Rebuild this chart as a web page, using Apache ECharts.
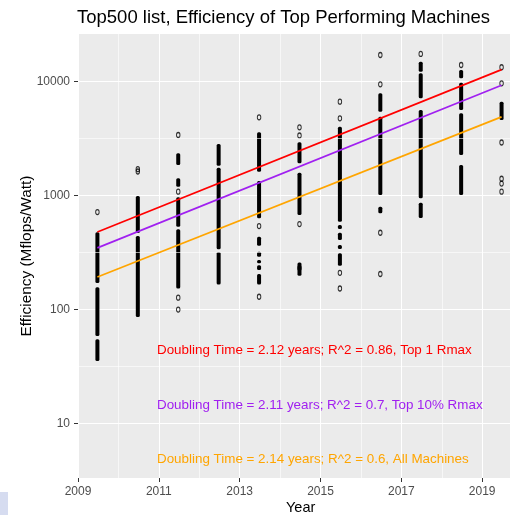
<!DOCTYPE html>
<html>
<head>
<meta charset="utf-8">
<script src="https://cdn.jsdelivr.net/npm/echarts@6/dist/echarts.min.js"></script>
<style>
  html, body { margin: 0; padding: 0; background: #fff; }
  #chart { width: 510px; height: 515px; }
</style>
</head>
<body>
<div id="chart"></div>
<script>
// x position of each June list
var listYears = [2009.48, 2010.48, 2011.48, 2012.48, 2013.48, 2014.48, 2015.48, 2016.48, 2017.48, 2018.48, 2019.48];

// stretches where machines overlap into a solid run, [low, high] Mflops/Watt
var runs2009 = [[35.4, 55], [58.6, 157], [171, 476]];
var runs2010 = [[86, 441], [468, 988]];
var runs2011 = [[153, 505], [532, 962], [1192, 1412], [1847, 2339]];
var runs2012 = [[166, 319], [337, 1749], [1821, 2821]];
var runs2013 = [[166, 205], [222, 245], [254, 272], [290, 321], [362, 434], [630, 1337], [1613, 3573]];
var runs2014 = [[198, 259], [673, 1581], [1911, 2920]];
var runs2015 = [[242, 311], [339, 368], [407, 471], [508, 550], [588, 4000]];
var runs2016 = [[697, 796], [1008, 4894], [5414, 7850]];
var runs2017 = [[634, 863], [943, 5603], [7096, 11750], [12140, 14850]];
var runs2018 = [[1008, 1847], [2260, 5242], [5603, 9720], [10620, 12560]];
var runs2019 = [[4579, 6625]];

// machines that stand alone
var dots2009 = [715];
var dots2010 = [1620, 1700];
var dots2011 = [3383, 1078, 127, 100];
var dots2012 = [];
var dots2013 = [4835, 539, 129.5];
var dots2014 = [3950, 3350, 561, 231];
var dots2015 = [6625, 4739, 210, 153];
var dots2016 = [17000, 9412, 471, 205];
var dots2017 = [17360];
var dots2018 = [13900];
var dots2019 = [13270, 9605, 2910, 1400, 1270, 1078];

// least-squares fits, value at first and last list
var fitYears = [2009.48, 2019.48];
var fitTop1 = [478, 12650];
var fitTop10 = [347, 9230];
var fitAll = [193, 4875];

var yTicks = [10, 100, 1000, 10000];
var yMinor = [31.62, 316.2, 3162];

var allRuns = [runs2009, runs2010, runs2011, runs2012, runs2013, runs2014, runs2015, runs2016, runs2017, runs2018, runs2019];
var allDots = [dots2009, dots2010, dots2011, dots2012, dots2013, dots2014, dots2015, dots2016, dots2017, dots2018, dots2019];

var runData = [];
var dotData = [];
listYears.forEach(function (yr, i) {
  allRuns[i].forEach(function (r) { runData.push([yr, r[0], r[1]]); });
  allDots[i].forEach(function (v) { dotData.push([yr, v]); });
});

function fitSeries(vals, color) {
  return {
    type: 'line',
    data: [[fitYears[0], vals[0]], [fitYears[1], vals[1]]],
    symbol: 'none',
    lineStyle: { color: color, width: 1.7 },
    silent: true,
    z: 5
  };
}

var font = 'Liberation Sans, Arial, sans-serif';
var chart = echarts.init(document.getElementById('chart'));
chart.setOption({
  animation: false,
  backgroundColor: '#fff',
  textStyle: { fontFamily: font },
  title: {
    text: 'Top500 list, Efficiency of Top Performing Machines',
    left: 72,
    top: 3,
    textStyle: { fontSize: 18.5, fontWeight: 'normal', color: '#000', fontFamily: font }
  },
  grid: {
    left: 78,
    top: 34,
    right: -53,
    bottom: 37,
    outerBoundsMode: 'none',
    containLabel: false,
    show: true,
    backgroundColor: '#EBEBEB',
    borderWidth: 0
  },
  xAxis: {
    type: 'value',
    min: 2009,
    max: 2021,
    interval: 2,
    axisLine: { show: false },
    axisTick: { length: 4, lineStyle: { color: '#333' } },
    axisLabel: {
      color: '#4D4D4D', fontSize: 12, margin: 8, fontFamily: font,
      formatter: function (v) { return String(v); }
    },
    splitLine: { lineStyle: { color: '#fff', width: 1 } },
    minorTick: { show: false, splitNumber: 2 },
    minorSplitLine: { show: true, lineStyle: { color: '#fff', width: 0.6 } }
  },
  yAxis: {
    type: 'log',
    logBase: 10,
    min: 3.343,
    max: 25970,
    name: 'Efficiency (Mflops/Watt)',
    nameLocation: 'middle',
    nameGap: 44,
    nameMoveOverlap: false,
    nameTextStyle: { fontSize: 15.4, color: '#000', fontFamily: font },
    axisLine: { show: false },
    axisTick: { length: 4, lineStyle: { color: '#333' }, customValues: yTicks },
    axisLabel: {
      color: '#4D4D4D', fontSize: 12, margin: 8, fontFamily: font,
      customValues: yTicks,
      formatter: function (v) { return String(Math.round(v)); }
    },
    splitLine: { lineStyle: { color: '#fff', width: 1 } }
  },
  series: [
    {
      type: 'line',
      data: [],
      silent: true,
      z: 1,
      markLine: {
        silent: true,
        symbol: 'none',
        label: { show: false },
        lineStyle: { color: '#fff', width: 0.6, type: 'solid' },
        data: yMinor.map(function (v) { return { yAxis: v }; })
      }
    },
    {
      type: 'custom',
      data: runData,
      encode: { x: 0, y: [1, 2] },
      silent: true,
      z: 3,
      renderItem: function (params, api) {
        var hi = api.coord([api.value(0), api.value(2)]);
        var lo = api.coord([api.value(0), api.value(1)]);
        return {
          type: 'rect',
          shape: { x: hi[0] - 2, y: hi[1], width: 4, height: lo[1] - hi[1], r: 1.5 },
          style: { fill: '#000' }
        };
      }
    },
    {
      type: 'scatter',
      data: dotData,
      symbol: 'circle',
      symbolSize: [3.5, 5],
      silent: true,
      z: 3,
      itemStyle: { color: 'rgba(0,0,0,0)', borderColor: '#000', borderWidth: 1.1 }
    },
    fitSeries(fitTop1, '#FF0000'),
    fitSeries(fitTop10, '#A020F0'),
    fitSeries(fitAll, '#FFA500')
  ],
  graphic: [
    { type: 'text', z: 100, left: 286, top: 500, style: { text: 'Year', fill: '#000', font: '14.5px ' + font } },
    { type: 'text', z: 100, x: 157, y: 350, style: { text: 'Doubling Time = 2.12 years; R^2 = 0.86, Top 1 Rmax', fill: '#FF0000', font: '13.4px ' + font, align: 'left', verticalAlign: 'middle' } },
    { type: 'text', z: 100, x: 157, y: 405, style: { text: 'Doubling Time = 2.11 years; R^2 = 0.7, Top 10% Rmax', fill: '#A020F0', font: '13.4px ' + font, align: 'left', verticalAlign: 'middle' } },
    { type: 'text', z: 100, x: 157, y: 459.5, style: { text: 'Doubling Time = 2.14 years; R^2 = 0.6, All Machines', fill: '#FFA500', font: '13.4px ' + font, align: 'left', verticalAlign: 'middle' } },
    { type: 'rect', z: 100, left: 0, top: 492, shape: { width: 8, height: 23 }, style: { fill: '#D6DCF0' } }
  ]
});
</script>
</body>
</html>
